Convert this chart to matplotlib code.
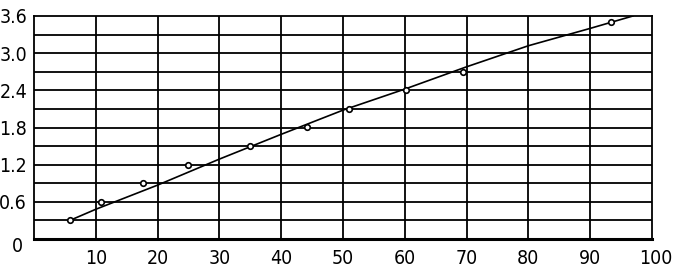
import matplotlib
matplotlib.use("Agg")
import matplotlib.pyplot as plt
import matplotlib.transforms as mtransforms

# measured points
pts_x = [5.8, 10.9, 17.6, 24.9, 35.0, 44.1, 51.0, 60.2, 69.4, 93.4]
pts_y = [0.3, 0.6, 0.9, 1.2, 1.5, 1.8, 2.1, 2.4, 2.7, 3.5]

# fitted curve
line_x = [5.8, 10, 20, 30, 40, 50, 60, 70, 80, 90, 96.9]
line_y = [0.3, 0.48, 0.87, 1.29, 1.69, 2.08, 2.42, 2.78, 3.12, 3.40, 3.6]

x_ticks = [10, 20, 30, 40, 50, 60, 70, 80, 90, 100]
y_label_ticks = [0, 0.6, 1.2, 1.8, 2.4, 3.0, 3.6]
y_label_text = ["0", "0.6", "1.2", "1.8", "2.4", "3.0", "3.6"]
y_grid = [0.3 * i for i in range(1, 12)]

plt.rcParams['font.family'] = ['DejaVu Sans']
plt.rcParams['font.stretch'] = 'condensed'

fig = plt.figure(figsize=(6.73, 2.69), dpi=100)
ax = fig.add_axes([34/673, 30/269, (652-34)/673, (239-16)/269])
ax.set_xlim(0, 100)
ax.set_ylim(0, 3.6)

for y in y_grid:
    ax.axhline(y, color='black', lw=1.3, zorder=1)
for x in x_ticks[:-1]:
    ax.axvline(x, color='black', lw=1.3, zorder=1)

ax.plot(line_x, line_y, color='black', lw=1.2, zorder=2)
ax.plot(pts_x, pts_y, 'o', ms=4, mfc='white', mec='black', mew=1.2, zorder=3)

ax.set_xticks(x_ticks)
ax.set_xticklabels([str(v) for v in x_ticks])
ax.set_yticks(y_label_ticks)
ax.set_yticklabels(y_label_text)
ax.tick_params(axis='both', length=0, labelsize=14)
ax.tick_params(axis='x', pad=7)
ax.tick_params(axis='y', pad=5)
for lbl in ax.get_xticklabels() + ax.get_yticklabels():
    lbl.set_fontstretch('condensed')
    lbl.set_fontweight('light')

for s in ['left', 'right', 'top']:
    ax.spines[s].set_linewidth(1.3)
ax.spines['bottom'].set_linewidth(2.2)

# small offsets for edge labels
lbl0 = ax.get_yticklabels()[0]
lbl0.set_transform(lbl0.get_transform() + mtransforms.ScaledTranslation(-4/100, -6/100, fig.dpi_scale_trans))
lbl100 = ax.get_xticklabels()[-1]
lbl100.set_transform(lbl100.get_transform() + mtransforms.ScaledTranslation(4/100, 0, fig.dpi_scale_trans))

fig.savefig("out.png", dpi=100)
